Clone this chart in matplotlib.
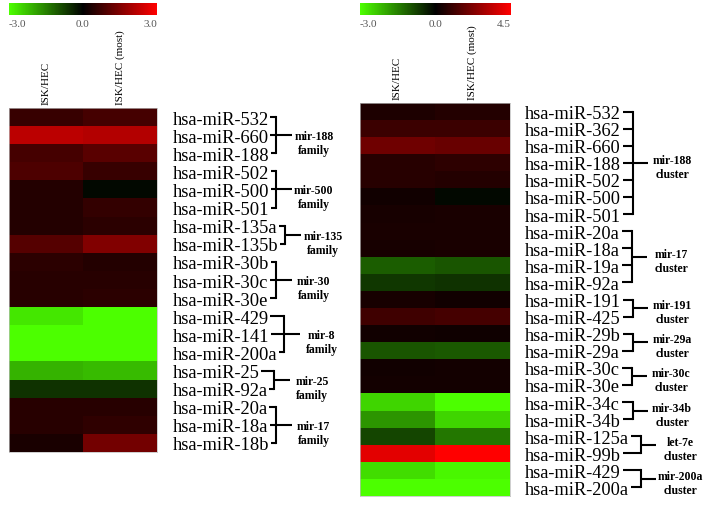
import numpy as np
import matplotlib
matplotlib.use("Agg")
import matplotlib.pyplot as plt
from matplotlib.colors import LinearSegmentedColormap, Normalize, TwoSlopeNorm

plt.rcParams['font.family'] = ['Liberation Serif', 'DejaVu Serif']

# columns of both heatmaps
col_labels = ["ISK/HEC", "ISK/HEC (most)"]

# left panel: miRNA families (log2 ratio, scale -3.0 .. 3.0)
left_mirs = ["hsa-miR-532", "hsa-miR-660", "hsa-miR-188",
             "hsa-miR-502", "hsa-miR-500", "hsa-miR-501",
             "hsa-miR-135a", "hsa-miR-135b",
             "hsa-miR-30b", "hsa-miR-30c", "hsa-miR-30e",
             "hsa-miR-429", "hsa-miR-141", "hsa-miR-200a",
             "hsa-miR-25", "hsa-miR-92a",
             "hsa-miR-20a", "hsa-miR-18a", "hsa-miR-18b"]
left_isk_hec = [0.65, 2.2, 0.8, 0.9, 0.4, 0.4, 0.4, 1.0, 0.5, 0.45,
                0.45, -2.7, -3.0, -3.0, -2.1, -0.6, 0.45, 0.45, 0.3]
left_isk_hec_most = [0.8, 2.1, 1.05, 0.65, -0.1, 0.6, 0.5, 1.5, 0.4, 0.45,
                     0.5, -3.0, -3.0, -3.0, -2.2, -0.6, 0.45, 0.55, 1.35]
left_groups = [("mir-188", "family", 0, 2),
               ("mir-500", "family", 3, 5),
               ("mir-135", "family", 6, 7),
               ("mir-30", "family", 8, 10),
               ("mir-8", "family", 11, 13),
               ("mir-25", "family", 14, 15),
               ("mir-17", "family", 16, 18)]

# right panel: miRNA clusters (log2 ratio, scale -3.0 .. 4.5)
right_mirs = ["hsa-miR-532", "hsa-miR-362", "hsa-miR-660", "hsa-miR-188",
              "hsa-miR-502", "hsa-miR-500", "hsa-miR-501",
              "hsa-miR-20a", "hsa-miR-18a", "hsa-miR-19a", "hsa-miR-92a",
              "hsa-miR-191", "hsa-miR-425",
              "hsa-miR-29b", "hsa-miR-29a",
              "hsa-miR-30c", "hsa-miR-30e",
              "hsa-miR-34c", "hsa-miR-34b",
              "hsa-miR-125a", "hsa-miR-99b",
              "hsa-miR-429", "hsa-miR-200a"]
right_isk_hec = [0.5, 1.05, 1.95, 0.7, 0.7, 0.3, 0.4, 0.45, 0.4, -1.1, -0.65,
                 0.4, 1.1, 0.3, -1.0, 0.3, 0.35, -2.5, -1.75, -0.8, 4.0,
                 -2.6, -3.0]
right_isk_hec_most = [0.6, 1.05, 1.85, 0.8, 0.6, -0.1, 0.45, 0.45, 0.45, -1.0,
                      -0.6, 0.3, 1.2, 0.25, -1.05, 0.35, 0.35, -3.0, -2.5,
                      -1.4, 4.5, -2.9, -3.0]
right_groups = [("mir-188", "cluster", 0, 6),
                ("mir-17", "cluster", 7, 10),
                ("mir-191", "cluster", 11, 12),
                ("mir-29a", "cluster", 13, 14),
                ("mir-30c", "cluster", 15, 16),
                ("mir-34b", "cluster", 17, 18),
                ("let-7e", "cluster", 19, 20),
                ("mir-200a", "cluster", 21, 22)]

W, H = 718, 506
fig = plt.figure(figsize=(W / 100, H / 100), dpi=100)
cmap = LinearSegmentedColormap.from_list("gbr", ["#4cff00", "#000000", "#ff0000"])


def px_axes(x0, y0, x1, y1):
    # axes placed by pixel box (top-left origin)
    return fig.add_axes([x0 / W, 1 - y1 / H, (x1 - x0) / W, (y1 - y0) / H])


def heatmap(rect, mirs, c1, c2, norm, fs):
    ax = px_axes(*rect)
    data = np.column_stack([c1, c2])
    im = ax.imshow(data, cmap=cmap, norm=norm, aspect='auto',
                   interpolation='nearest')
    ax.yaxis.tick_right()
    ax.set_yticks(range(len(mirs)))
    ax.set_yticklabels(mirs, fontsize=fs)
    ax.xaxis.tick_top()
    ax.set_xticks([0, 1])
    ax.set_xticklabels(col_labels, rotation=90, fontsize=8)
    ax.tick_params(axis='y', length=0, pad=11)
    ax.tick_params(axis='x', length=0, pad=3)
    for s in ax.spines.values():
        s.set_color('#bbbbbb')
        s.set_linewidth(0.5)
    return ax, im


def colorbar(rect, im, ticks, labels):
    cax = px_axes(*rect)
    cb = fig.colorbar(im, cax=cax, orientation='horizontal')
    cb.set_ticks(ticks, labels=labels)
    cb.outline.set_visible(False)
    cax.tick_params(length=0, pad=3, labelsize=8, labelcolor='#555555')
    tl = cax.get_xticklabels()
    tl[0].set_ha('left')
    tl[-1].set_ha('right')


ax_l, im_l = heatmap((9, 109, 157, 453), left_mirs, left_isk_hec,
                     left_isk_hec_most, Normalize(-3.0, 3.0), 13.3)
ax_r, im_r = heatmap((360, 104, 510, 497), right_mirs, right_isk_hec,
                     right_isk_hec_most, TwoSlopeNorm(0.0, -3.0, 4.5), 13.2)

colorbar((9, 4, 157, 16), im_l, [-3.0, 0.0, 3.0], ["-3.0", "0.0", "3.0"])
colorbar((360, 4, 511, 16), im_r, [-3.0, 0.0, 4.5], ["-3.0", "0.0", "4.5"])

# brackets need the rendered label extents
fig.canvas.draw()
rend = fig.canvas.get_renderer()
ov = fig.add_axes([0, 0, 1, 1])
ov.set_xlim(0, W)
ov.set_ylim(H, 0)
ov.axis('off')


def brackets(ax, groups, gap, tick_len, label_dx, d1, spacing):
    labels = ax.get_yticklabels()
    for name, kind, a, b in groups:
        ends = [labels[i].get_window_extent(rend).x1 for i in range(a, b + 1)]
        ys = [H - ax.transData.transform((0, i))[1] for i in range(a, b + 1)]
        bx = max(ends) + gap
        for e, y in zip(ends, ys):
            ov.plot([e + 2, bx], [y, y], color='black', lw=1.5,
                    solid_capstyle='butt')
        ov.plot([bx, bx], [ys[0], ys[-1]], color='black', lw=1.5,
                solid_capstyle='projecting')
        ym = (ys[0] + ys[-1]) / 2
        ov.plot([bx, bx + tick_len], [ym, ym], color='black', lw=1.5,
                solid_capstyle='butt')
        ov.text(bx + label_dx, ym + d1, name, ha='center', va='center',
                fontsize=8.5, fontweight='bold')
        ov.text(bx + label_dx, ym + d1 + spacing, kind, ha='center',
                va='center', fontsize=8.5, fontweight='bold')


brackets(ax_l, left_groups, 7, 16, 38, 1, 14)
brackets(ax_r, right_groups, 12, 15, 39, -3, 14)

fig.savefig('out.png', dpi=100)
